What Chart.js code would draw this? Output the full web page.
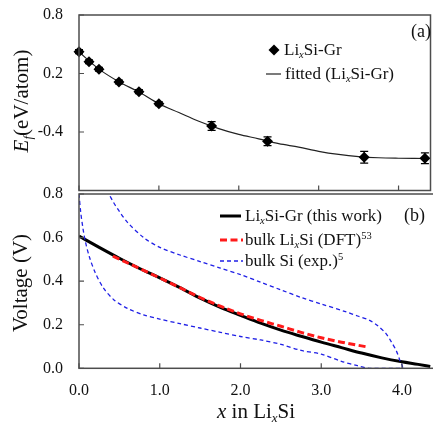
<!DOCTYPE html>
<html>
<head>
<meta charset="utf-8">
<script src="https://cdn.jsdelivr.net/npm/chart.js@4.4.1/dist/chart.umd.min.js"></script>
<style>
  html, body { margin: 0; padding: 0; background: #fff; overflow: hidden; width: 433px; height: 423px; }
  canvas { position: absolute; left: 0; }
  .txt { position: absolute; font-family: "Liberation Serif", "Times New Roman", serif; color: #111; white-space: nowrap; line-height: 20px; }
  .leg { font-size: 17px; }
  .ttl { font-size: 21px; }
  .rot { transform: translate(-50%, -50%) rotate(-90deg); }
  sub { font-size: 0.62em; vertical-align: -0.3em; line-height: 0; }
  sup { font-size: 0.62em; vertical-align: 0.55em; line-height: 0; }
  svg { position: absolute; left: 0; top: 0; pointer-events: none; }
</style>
</head>
<body>
<canvas id="top" width="436" height="196" style="top:0"></canvas>
<canvas id="bottom" width="436" height="243" style="top:180px"></canvas>

<svg width="433" height="423">
  <path d="M274 44.5 L279.5 50 L274 55.5 L268.5 50 Z" fill="#000"/>
  <line x1="266" y1="74" x2="281" y2="74" stroke="#222" stroke-width="1.2"/>
  <line x1="220" y1="216" x2="241" y2="216" stroke="#000" stroke-width="3"/>
  <line x1="220" y1="240" x2="243" y2="240" stroke="#ff1a1a" stroke-width="3" stroke-dasharray="7 3.5"/>
  <line x1="220" y1="261" x2="243" y2="261" stroke="#1f1fe6" stroke-width="1.3" stroke-dasharray="4 3"/>
</svg>

<div class="txt leg" style="left:284px; top:40px">Li<sub><i>x</i></sub>Si-Gr</div>
<div class="txt leg" style="left:285px; top:64px">fitted (Li<sub><i>x</i></sub>Si-Gr)</div>
<div class="txt" style="left:411px; top:21px; font-size:18px">(a)</div>

<div class="txt leg" style="left:245px; top:206px">Li<sub><i>x</i></sub>Si-Gr (this work)</div>
<div class="txt leg" style="left:245px; top:230px">bulk Li<sub><i>x</i></sub>Si (DFT)<sup>53</sup></div>
<div class="txt leg" style="left:245px; top:251px">bulk Si (exp.)<sup>5</sup></div>
<div class="txt" style="left:404px; top:205px; font-size:18px">(b)</div>

<div class="txt ttl rot" style="left:21px; top:101px"><i>E<sub>f</sub></i>(eV/atom)</div>
<div class="txt ttl rot" style="left:20px; top:283px">Voltage (V)</div>
<div class="txt ttl" style="left:217px; top:401px"><i>x</i> in Li<sub><i>x</i></sub>Si</div>

<script>
// (a) formation energy, Li_xSi-Gr
const efX = [0, 0.125, 0.25, 0.5, 0.75, 1.0, 1.66, 2.36, 3.57, 4.33];
const efY = [0.424, 0.321, 0.243, 0.113, 0.014, -0.110, -0.338, -0.495, -0.659, -0.670];
const efErr = [0.02, 0.02, 0.02, 0.02, 0.02, 0.02, 0.045, 0.045, 0.06, 0.055];

// (a) fitted curve
const fitX = [0, 0.25, 0.5, 0.75, 1.0, 1.25, 1.5, 1.75, 2.0, 2.25, 2.5, 2.75, 3.0, 3.25, 3.5, 3.75, 4.0, 4.2, 4.4];
const fitY = [0.42, 0.245, 0.115, 0.01, -0.11, -0.2, -0.29, -0.365, -0.425, -0.47, -0.52, -0.555, -0.598, -0.63, -0.652, -0.664, -0.669, -0.671, -0.672];

// (b) voltage, Li_xSi-Gr (this work)
const grX = [0, 0.25, 0.5, 0.75, 1.0, 1.25, 1.5, 1.75, 2.0, 2.25, 2.5, 2.75, 3.0, 3.25, 3.5, 3.75, 4.0, 4.2, 4.35];
const grV = [0.607, 0.555, 0.505, 0.458, 0.415, 0.37, 0.322, 0.28, 0.243, 0.207, 0.175, 0.147, 0.12, 0.095, 0.07, 0.048, 0.03, 0.018, 0.008];

// (b) bulk Li_xSi (DFT)
const dftX = [0.42, 0.75, 1.0, 1.25, 1.5, 1.75, 2.0, 2.25, 2.5, 2.75, 3.0, 3.25, 3.57];
const dftV = [0.515, 0.458, 0.415, 0.37, 0.325, 0.285, 0.25, 0.22, 0.193, 0.165, 0.14, 0.12, 0.098];

// (b) bulk Si (exp.) - lithiation then delithiation
const expX = [0.0, 0.02, 0.05, 0.08, 0.13, 0.2, 0.3, 0.43, 0.6, 0.8, 1.0, 1.25, 1.5, 1.75, 2.0, 2.25, 2.5, 2.75, 3.0, 3.25, 3.45, 3.6, 4.0,
              3.97, 3.93, 3.87, 3.8, 3.7, 3.6, 3.45, 3.3, 3.0, 2.75, 2.5, 2.25, 2.0, 1.75, 1.5, 1.25, 1.0, 0.8, 0.6, 0.5, 0.43, 0.37];
const expV = [0.80, 0.72, 0.64, 0.58, 0.51, 0.44, 0.37, 0.315, 0.275, 0.245, 0.226, 0.205, 0.185, 0.165, 0.146, 0.13, 0.11, 0.082, 0.065, 0.032, 0.012, 0.0, 0.0,
              0.04, 0.08, 0.12, 0.16, 0.195, 0.22, 0.24, 0.26, 0.295, 0.325, 0.36, 0.395, 0.43, 0.46, 0.49, 0.52, 0.555, 0.6, 0.67, 0.72, 0.76, 0.80];

const xTicks = [0, 1, 2, 3, 4];

const pts = (xs, ys) => xs.map((x, i) => ({ x, y: ys[i] }));
const font = { family: "'Liberation Serif', 'Times New Roman', serif", size: 16 };
const frameColor = "#4d4d4d";

// frame box + inward tick marks
const framePlugin = {
  id: "frame",
  afterDatasetsDraw(chart) {
    const { ctx, chartArea: a, scales } = chart;
    ctx.save();
    ctx.strokeStyle = frameColor;
    ctx.lineWidth = 1.5;
    ctx.strokeRect(a.left, a.top, a.right - a.left, a.bottom - a.top);
    ctx.lineWidth = 1.2;
    ctx.beginPath();
    scales.x.ticks.forEach(t => {
      const px = scales.x.getPixelForValue(t.value);
      ctx.moveTo(px, a.bottom);
      ctx.lineTo(px, a.bottom - 5);
    });
    scales.y.ticks.forEach(t => {
      const py = scales.y.getPixelForValue(t.value);
      ctx.moveTo(a.left, py);
      ctx.lineTo(a.left + 5, py);
    });
    ctx.stroke();
    ctx.restore();
  }
};

const errorBars = {
  id: "errorBars",
  afterDatasetsDraw(chart) {
    const { ctx, scales } = chart;
    ctx.save();
    ctx.strokeStyle = "#000";
    ctx.lineWidth = 1.2;
    efX.forEach((x, i) => {
      const px = scales.x.getPixelForValue(x);
      const y1 = scales.y.getPixelForValue(efY[i] + efErr[i]);
      const y2 = scales.y.getPixelForValue(efY[i] - efErr[i]);
      ctx.beginPath();
      ctx.moveTo(px, y1); ctx.lineTo(px, y2);
      ctx.moveTo(px - 4, y1); ctx.lineTo(px + 4, y1);
      ctx.moveTo(px - 4, y2); ctx.lineTo(px + 4, y2);
      ctx.stroke();
    });
    ctx.restore();
  }
};

function xAxis(showLabels, height, pad) {
  return {
    type: "linear", min: 0, max: 4.4,
    grid: { display: false, drawTicks: false },
    border: { display: false },
    ticks: {
      display: showLabels, stepSize: 1, includeBounds: false, padding: pad,
      font, color: "#111", callback: v => v.toFixed(1)
    },
    afterBuildTicks: s => { s.ticks = xTicks.map(v => ({ value: v })); },
    afterFit: s => { s.height = height; s.paddingLeft = 0; s.paddingRight = 0; }
  };
}

function yAxis(min, max, step, hide) {
  return {
    min, max,
    grid: { display: false, drawTicks: false },
    border: { display: false },
    ticks: {
      stepSize: step, padding: 16, font, color: "#111",
      callback: v => (hide.includes(+v.toFixed(1)) ? "" : v.toFixed(1))
    },
    afterFit: s => { s.width = 79; s.paddingTop = 0; s.paddingBottom = 0; }
  };
}

const common = {
  responsive: false,
  animation: false,
  events: [],
  plugins: { legend: { display: false }, tooltip: { enabled: false } }
};

new Chart(document.getElementById("top"), {
  type: "scatter",
  data: {
    datasets: [
      {
        data: pts(efX, efY), pointStyle: "rectRot", pointRadius: 5.5, clip: false,
        backgroundColor: "#000", borderColor: "#000", borderWidth: 0, showLine: false
      },
      {
        data: pts(fitX, fitY), showLine: true, pointRadius: 0,
        borderColor: "#222", borderWidth: 1.2, tension: 0.4, cubicInterpolationMode: "monotone"
      }
    ]
  },
  options: {
    ...common,
    layout: { padding: { top: 15, right: 1.7, left: 0, bottom: 0 } },
    scales: { x: xAxis(false, 5, 0), y: yAxis(-1.0, 0.8, 0.6, [-1.0]) }
  },
  plugins: [errorBars, framePlugin]
});

new Chart(document.getElementById("bottom"), {
  type: "scatter",
  data: {
    datasets: [
      {
        data: pts(dftX, dftV), showLine: true, pointRadius: 0,
        borderColor: "#ff1a1a", borderWidth: 3, borderDash: [7, 3.5], tension: 0.4, cubicInterpolationMode: "monotone"
      },
      {
        data: pts(expX, expV), showLine: true, pointRadius: 0,
        borderColor: "#1f1fe6", borderWidth: 1.3, borderDash: [4, 3], tension: 0.3
      },
      {
        data: pts(grX, grV), showLine: true, pointRadius: 0,
        borderColor: "#000", borderWidth: 3, tension: 0.4, cubicInterpolationMode: "monotone"
      }
    ]
  },
  options: {
    ...common,
    layout: { padding: { top: 14, right: 1.7, left: 0, bottom: 0 } },
    scales: { x: xAxis(true, 54.7, 13), y: yAxis(0, 0.8, 0.2, []) }
  },
  plugins: [framePlugin]
});
</script>
</body>
</html>
